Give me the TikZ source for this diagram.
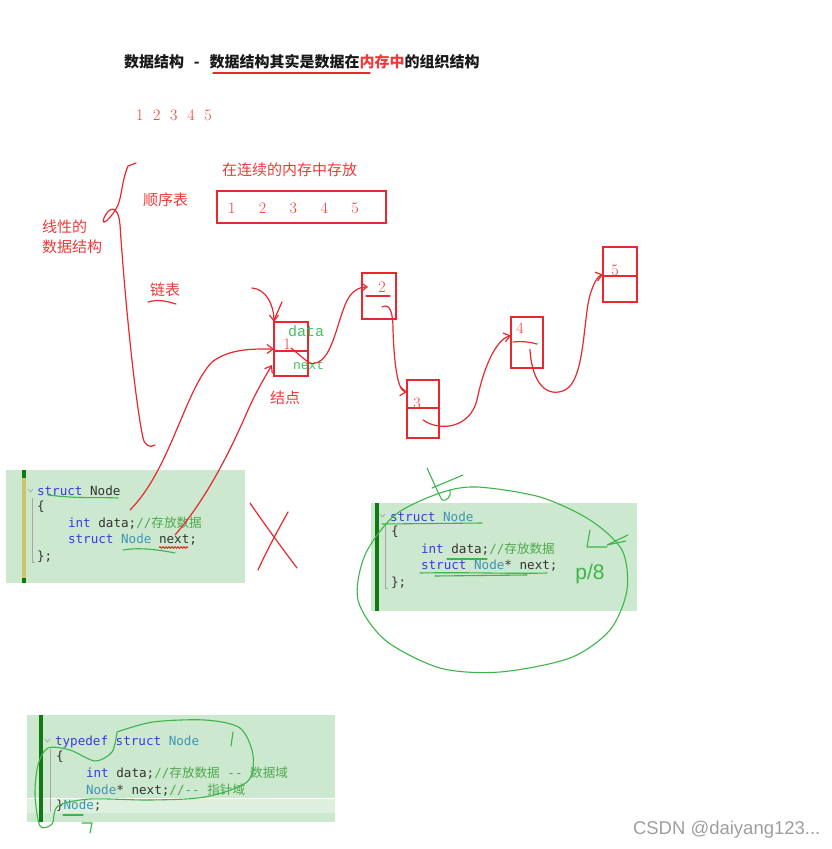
\documentclass[tikz,border=0pt]{standalone}
\usepackage{fontspec}
\usepackage{tikz}
\usetikzlibrary{arrows.meta,positioning,calc,decorations.pathmorphing}
\newfontfamily\cjk{Noto Sans CJK SC}
\newfontfamily\codefont{DejaVu Sans Mono}
\newfontfamily\notefont{Liberation Mono}
\newfontfamily\markfont{Liberation Sans}
\definecolor{inkred}{HTML}{F03A3A}
\definecolor{boxred}{HTML}{E8282E}
\definecolor{pengreen}{HTML}{3DB54A}
\definecolor{notegreen}{HTML}{45C060}
\definecolor{codebg}{HTML}{CCE8CE}
\definecolor{codehl}{HTML}{DDEFDD}
\definecolor{bargreen}{HTML}{127A12}
\definecolor{barolive}{HTML}{C9C46E}
\definecolor{kwblue}{HTML}{3A3AE0}
\definecolor{tyteal}{HTML}{3E95B5}
\definecolor{cmgreen}{HTML}{4FA84F}
\definecolor{plain}{HTML}{333333}
\newcommand{\kwd}[1]{\textcolor{kwblue}{#1}}
\newcommand{\typ}[1]{\textcolor{tyteal}{#1}}
\newcommand{\cmt}[1]{\textcolor{cmgreen}{#1}}
\newcommand{\zh}[1]{{\cjk #1}}

\begin{document}
\begin{tikzpicture}[x=1pt, y=-1pt,
  every node/.style={inner sep=0pt, outer sep=0pt},
  lbl/.style={text=inkred, font=\cjk\fontsize{15}{20}\selectfont},
  num/.style={text=inkred, font=\fontsize{16}{18}\selectfont},
  cell/.style={rectangle, draw=boxred, line width=2pt},
  pen/.style={draw=boxred, line width=1.2pt, line cap=round, line join=round},
  arr/.style={pen, -{Straight Barb[length=6pt, width=9pt]}},
  gpen/.style={draw=pengreen, line width=1.1pt, line cap=round, line join=round},
  note/.style={text=notegreen, font=\notefont\fontsize{14}{16}\selectfont},
  codeblk/.style={rectangle, fill=codebg},
  codeln/.style={anchor=west, text=plain, font=\codefont\fontsize{12.6}{14}\selectfont},
  fold/.style={draw=black!35, line width=0.6pt}
]
\useasboundingbox (0,0) rectangle (832,849);
\fill[white] (0,0) rectangle (832,849);

% title
\node[anchor=west, text=black!90, font=\cjk\bfseries\fontsize{15}{17}\selectfont] (title) at (124,62)
  {数据结构\hspace{10pt}-\hspace{10pt}数据结构其实是数据在\textcolor{inkred}{内存中}的组织结构};
\draw[pen] (213,73) -- (370,73);
\node[num, anchor=west] (demo) at (136,115)
  {1\hspace{9.75pt}2\hspace{9.75pt}3\hspace{9.75pt}4\hspace{9.75pt}5};

% linear structures
\draw[pen] (136,163) -- (128,166) .. controls (122,180) and (122,195) .. (118,205)
  .. controls (112,218) and (100,228) .. (104,218)
  .. controls (108,208) and (118,202) .. (120,225)
  .. controls (125,300) and (135,400) .. (143,438)
  .. controls (145,446) and (150,448) .. (155,445);
\node[lbl, anchor=west, align=left] (linear) at (42,237) {线性的\\数据结构};
\node[lbl, anchor=west] (seqlbl) at (143,200) {顺序表};
\node[lbl, anchor=west] (contig) at (222,170) {在连续的内存中存放};
\node[cell, minimum width=169pt, minimum height=32pt] (seq) at (301.5,207) {};
\node[num, anchor=west] (seqnums) at (228,208)
  {1\hspace{23.5pt}2\hspace{23.5pt}3\hspace{23.5pt}4\hspace{23.5pt}5};
\node[lbl, anchor=west] (llbl) at (150,290) {链表};
\draw[pen] (148,302) .. controls (158,299) and (166,301) .. (176,304);

% linked list cells
\node[cell, minimum width=34pt, minimum height=54pt] (n1) at (291,349) {};
\node[cell, minimum width=34pt, minimum height=46pt] (n2) at (379,296) {};
\node[cell, minimum width=32pt, minimum height=58pt] (n3) at (423,409) {};
\node[cell, minimum width=32pt, minimum height=51pt] (n4) at (527,342.5) {};
\node[cell, minimum width=34pt, minimum height=55pt] (n5) at (620,274.5) {};
\draw[boxred, line width=2pt] ([yshift=-2pt]n1.west) -- ([yshift=-2pt]n1.east);
\draw[boxred, line width=2pt] ([yshift=1pt]n3.west) -- ([yshift=1pt]n3.east);
\draw[boxred, line width=2pt] ([yshift=-1.5pt]n5.west) -- ([yshift=-1.5pt]n5.east);
\draw[pen] (366,296) -- (390,296);
\draw[pen] (513,342) .. controls (522,341) and (530,342) .. (537,344);
\node[num] (v1) at (287,344) {1};
\node[num] (v2) at (382,287) {2};
\node[num] (v3) at (419,403) {3.};
\node[num] (v4) at (520,328) {4};
\node[num] (v5) at (615,270) {5};
\node[note, font=\notefont\fontsize{15}{15}\selectfont, anchor=west] (dlbl) at (288,331) {data};
\node[note, font=\notefont\fontsize{13}{16}\selectfont, anchor=west] (nlbl) at (293,365) {next};
\node[lbl, anchor=west] (jd) at (270,398) {结点};

% code block 1
\node[codeblk, minimum width=239pt, minimum height=113pt] (blk1) at (125.5,526.5) {};
\fill[barolive] (22,478) rectangle (26,578);
\fill[bargreen] (22,470) rectangle (26,478);
\fill[bargreen] (22,578) rectangle (26,583);
\draw[fold] (28,489) -- (30.5,492) -- (33,489);
\draw[fold] (32,498) -- (32,562) -- (35,562);
\node[codeln] (b1a) at (37,491) {\kwd{struct} Node};
\node[codeln] (b1b) at (37,507) {\{};
\node[codeln] (b1c) at (68,523) {\kwd{int} data;\cmt{//\zh{存放数据}}};
\node[codeln] (b1d) at (68,540) {\kwd{struct} \typ{Node} next;};
\node[codeln] (b1e) at (37,557) {\};};
\draw[gpen] (48,495) .. controls (80,499) and (100,497) .. (118,498);
\draw[gpen] (123,550) .. controls (140,547) and (160,550) .. (175,553);
\draw[red, line width=0.8pt, decorate, decoration={snake, amplitude=0.8pt, segment length=3pt}]
  (159,547.5) -- (188,547.5);

% arrows
\coordinate (t1) at (252,288);
\coordinate (s1) at (130,510);
\coordinate (s2) at (175,535);
\draw[arr] (t1) .. controls (266,289) and (274,305) .. (n1.north west);
\draw[pen] (282,302) -- (274,320);
\draw[arr] (s1) .. controls (170,470) and (185,390) .. (212,362)
  .. controls (230,348) and (255,349) .. (n1.west);
\draw[arr] (s2) .. controls (210,495) and (235,440) .. (248,410)
  .. controls (256,392) and (266,375) .. ([shift={(-19,16)}]n1.center);
\draw[arr] ([shift={(0,-1)}]n1.center) -- (309,363)
  .. controls (330,368) and (335,330) .. (345,305)
  .. controls (350,292) and (358,287) .. ([shift={(-11,-9)}]n2.center);
\draw[arr] ([shift={(3,11)}]n2.center) .. controls (390,303) and (393,312) .. (393,330)
  .. controls (394,360) and (397,391) .. ([shift={(0,-17)}]n3.west);
\draw[arr] ([shift={(0,11)}]n3.center) .. controls (440,432) and (470,428) .. (477,400)
  .. controls (483,370) and (495,340) .. ([shift={(0,-7)}]n4.west);
\draw[arr] ([shift={(3,7)}]n4.center) .. controls (532,385) and (548,398) .. (565,390)
  .. controls (585,380) and (583,320) .. (590,295)
  .. controls (594,282) and (598,276) .. (n5.west);

% cross
\draw[pen] (250,503) .. controls (265,525) and (282,548) .. (297,568);
\draw[pen] (288,512) .. controls (278,530) and (266,552) .. (258,570);

% code block 2
\node[codeblk, minimum width=266pt, minimum height=108pt] (blk2) at (504,557) {};
\fill[bargreen] (375,503) rectangle (379,611);
\draw[fold] (380,514) -- (382.5,517) -- (385,514);
\draw[fold] (385,523) -- (385,588) -- (388,588);
\node[codeln] (b2a) at (390,517) {\kwd{struct} \typ{Node}};
\node[codeln] (b2b) at (391,532) {\{};
\node[codeln] (b2c) at (421,549) {\kwd{int} data;\cmt{//\zh{存放数据}}};
\node[codeln] (b2d) at (421,566) {\kwd{struct} \typ{Node}* next;};
\node[codeln] (b2e) at (391,583) {\};};
\draw[gpen] (382,524) -- (482,523);
\draw[gpen] (447,559) -- (487,559);
\draw[gpen] (420,573) .. controls (470,572) and (510,574) .. (547,573);
\draw[gpen] (435,576) -- (527,575);
\draw[gpen] plot[smooth cycle] coordinates {(440,493) (477,487) (540,497) (590,520)
  (622,550) (627,590) (610,630) (570,658) (500,672) (440,668) (385,640) (358,600)
  (365,555) (395,515)};
\draw[gpen] (427,468) -- (437,490) -- (442,500) .. controls (446,502) and (452,496) .. (450,490);
\draw[gpen] (432,488) -- (463,475);
\draw[gpen] (590,530) -- (587,547) -- (607,547);
\draw[gpen] (628,535) -- (607,545) -- (626,541);
\node[text=pengreen, font=\markfont\fontsize{21}{24}\selectfont] (p8) at (590,574) {p/8};

% code block 3
\node[codeblk, minimum width=308pt, minimum height=107pt] (blk3) at (181,768.5) {};
\fill[codehl] (27,798) rectangle (335,813);
\draw[white, line width=0.8pt] (27,798) -- (335,798);
\fill[bargreen] (39,715) rectangle (43,822);
\draw[fold] (45,739) -- (47.5,742) -- (50,739);
\draw[fold] (50,749) -- (50,812);
\node[codeln] (b3a) at (55,742) {\kwd{typedef} \kwd{struct} \typ{Node}};
\node[codeln] (b3b) at (56,757) {\{};
\node[codeln] (b3c) at (86,773) {\kwd{int} data;\cmt{//\zh{存放数据} -{}- \zh{数据域}}};
\node[codeln] (b3d) at (86,790) {\typ{Node}* next;\cmt{//-{}- \zh{指针域}}};
\node[codeln] (b3e) at (56,806) {\}\typ{Node};};
\draw[gpen] plot[smooth] coordinates {(117,732) (153,722) (205,720) (240,728) (253,755)
  (247,782) (205,797) (150,800) (90,799) (58,806) (52,824) (40,826) (35,795) (38,765)
  (48,748) (70,750) (95,761) (112,752) (117,732)};
\draw[gpen] (233,732) -- (231,746);
\draw[gpen] (63,815) -- (83,815);
\draw[gpen] (82,823) -- (92,823) -- (90,833);

% watermark
\node[anchor=west, text=black!38, font=\markfont\fontsize{18.5}{20}\selectfont] (wm) at (633,830)
  {CSDN @daiyang123...};
\end{tikzpicture}
\end{document}
